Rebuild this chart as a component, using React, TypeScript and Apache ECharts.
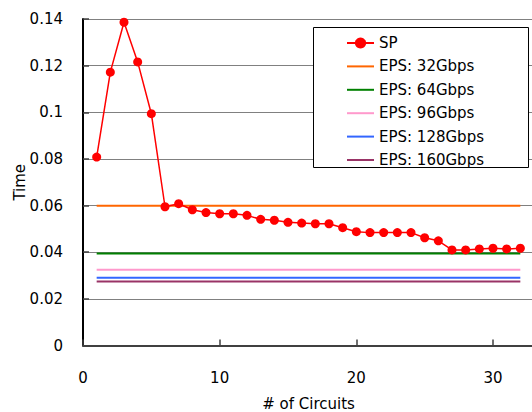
import React, { useEffect, useRef } from "react";
import * as echarts from "echarts";

const circuits = [1, 2, 3, 4, 5, 6, 7, 8, 9, 10, 11, 12, 13, 14, 15, 16, 17, 18, 19, 20, 21, 22, 23, 24, 25, 26, 27, 28, 29, 30, 31, 32];
const spTimes = [
  0.0808, 0.1172, 0.1386, 0.1216, 0.0994, 0.0595, 0.0608, 0.0582, 0.057, 0.0565, 0.0565,
  0.0558, 0.0541, 0.0537, 0.0528, 0.0525, 0.0522, 0.0522, 0.0505, 0.0488, 0.0484, 0.0484,
  0.0484, 0.0484, 0.0462, 0.0449, 0.041, 0.041, 0.0414, 0.0417, 0.0414, 0.0417,
];
const epsNames = ["EPS: 32Gbps", "EPS: 64Gbps", "EPS: 96Gbps", "EPS: 128Gbps", "EPS: 160Gbps"];
const epsTimes = [0.0599, 0.0395, 0.0325, 0.0291, 0.0274];
const epsColors = ["#FF6600", "#008000", "#FF99CC", "#3366FF", "#993366"];
const yTicks = [0, 0.02, 0.04, 0.06, 0.08, 0.1, 0.12, 0.14];
const xTicks = [0, 10, 20, 30];

const FONT = "DejaVu Sans";

export default function App() {
  const ref = useRef<HTMLDivElement>(null);
  useEffect(() => {
    if (!ref.current) return;
    const chart = echarts.init(ref.current, null, { renderer: "svg" });
    const first = circuits[0];
    const last = circuits[circuits.length - 1];
    const series: any[] = [
      {
        name: "SP",
        type: "line",
        data: circuits.map((c, i) => [c, spTimes[i]]),
        color: "#FF0000",
        symbol: "circle",
        symbolSize: 9,
        lineStyle: { color: "#FF0000", width: 1.5 },
        itemStyle: { color: "#FF0000" },
        z: 5,
      },
      ...epsNames.map((n, i) => ({
        name: n,
        type: "line",
        data: [
          [first, epsTimes[i]],
          [last, epsTimes[i]],
        ],
        color: epsColors[i],
        showSymbol: false,
        symbol: "none",
        itemStyle: { color: epsColors[i], opacity: 0 },
        lineStyle: { color: epsColors[i], width: 2 },
        z: 4 - i * 0.1,
      })),
    ];
    chart.setOption({
      animation: false,
      backgroundColor: "#ffffff",
      textStyle: { fontFamily: FONT },
      grid: {
        left: 83,
        top: 19,
        width: 451,
        height: 326.5,
        containLabel: false,
        outerBoundsMode: "none",
      },
      xAxis: {
        type: "value",
        min: xTicks[0],
        max: 33,
        interval: 10,
        name: "# of Circuits",
        nameLocation: "middle",
        nameGap: 51,
        nameMoveOverlap: false,
        nameTextStyle: { fontSize: 15, color: "#000", fontFamily: FONT },
        axisLine: { show: true, lineStyle: { color: "#404040", width: 2 } },
        axisTick: { show: true, inside: true, length: 6, lineStyle: { color: "#404040", width: 1.5 } },
        axisLabel: { fontSize: 15, color: "#000", margin: 25, fontFamily: FONT, showMaxLabel: false },
        splitLine: { show: false },
      },
      yAxis: {
        type: "value",
        min: yTicks[0],
        max: yTicks[yTicks.length - 1],
        interval: 0.02,
        name: "Time",
        nameLocation: "middle",
        nameGap: 56,
        nameMoveOverlap: false,
        nameTextStyle: { fontSize: 15, color: "#000", fontFamily: FONT },
        axisLine: { show: true, lineStyle: { color: "#000", width: 2 } },
        axisTick: { show: true, inside: true, length: 6, lineStyle: { color: "#404040", width: 1.5 } },
        axisLabel: { fontSize: 15, color: "#000", margin: 20, fontFamily: FONT },
        splitLine: { show: true, lineStyle: { color: "#808080", width: 1.2 } },
      },
      graphic: [
        {
          type: "rect",
          shape: { x: 313.5, y: 27.5, width: 215, height: 140 },
          style: { fill: "#ffffff", stroke: "#000000", lineWidth: 1 },
          z: 10,
          zlevel: 0,
        },
      ],
      legend: {
        orient: "vertical",
        left: 346,
        top: 35.5,
        padding: 0,
        itemWidth: 27,
        itemHeight: 14,
        itemGap: 8.4,
        selectedMode: false,
        z: 20,
        textStyle: { fontSize: 15, color: "#000", fontFamily: FONT, lineHeight: 14 },
        data: ["SP", ...epsNames],
      },
      series,
    });
    return () => chart.dispose();
  }, []);
  return (
    <div
      ref={ref}
      style={{ position: "fixed", left: 0, top: 0, width: 532, height: 412 }}
    />
  );
}
